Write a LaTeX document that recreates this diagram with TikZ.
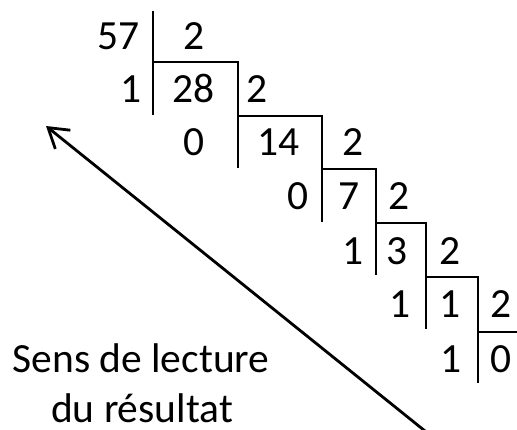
\documentclass[tikz,border=0pt]{standalone}
\usepackage{fontspec}
\setmainfont{Carlito}
\usetikzlibrary{arrows.meta}
\begin{document}
\begin{tikzpicture}[x=1pt,y=-1pt,line width=2.8pt,
    num/.style={anchor=base,inner sep=0pt,font=\fontsize{41.5}{49}\selectfont}]
  \useasboundingbox (0,0) rectangle (517,430);
  % staircase of the successive divisions
  \draw (153,11) -- (153,115);
  \foreach \xa/\xb/\h in {153/238/62,238/322/116,322/376/169,376/426/223,426/478/277}
    \draw (\xa,\h) -- (\xb,\h) -- (\xb,\h+106);
  \draw (478,332) -- (520,332);

  \node[num] (n57) at (118.5,50) {57};
  \node[num] (d1) at (194,50) {2};
  \node[num] (r1) at (131.5,103) {1};
  \node[num] (q1) at (193.5,103) {28};
  \node[num] (d2) at (257.5,103) {2};
  \node[num] (r2) at (194,156) {0};
  \node[num] (q2) at (278.5,156) {14};
  \node[num] (d3) at (353.5,156) {2};
  \node[num] (r3) at (298.5,210) {0};
  \node[num] (q3) at (349,210) {7};
  \node[num] (d4) at (399,210) {2};
  \node[num] (r4) at (353.5,265) {1};
  \node[num] (q4) at (397.5,265) {3};
  \node[num] (d5) at (450.5,265) {2};
  \node[num] (r5) at (400.5,318) {1};
  \node[num] (q5) at (450.5,318) {1};
  \node[num] (d6) at (501,318) {2};
  \node[num] (r6) at (451,373) {1};
  \node[num] (q6) at (501,373) {0};

  % reading direction
  \coordinate (start) at (425,431);
  \coordinate (tip) at (46,126);
  \draw[-{Straight Barb[length=19pt,width=24pt,line width=2.8pt]}] (start) -- (tip);
  \node[num] (sens) at (141,373) {Sens de lecture};
  \node[num] (res) at (142,422) {du résultat};
\end{tikzpicture}
\end{document}
